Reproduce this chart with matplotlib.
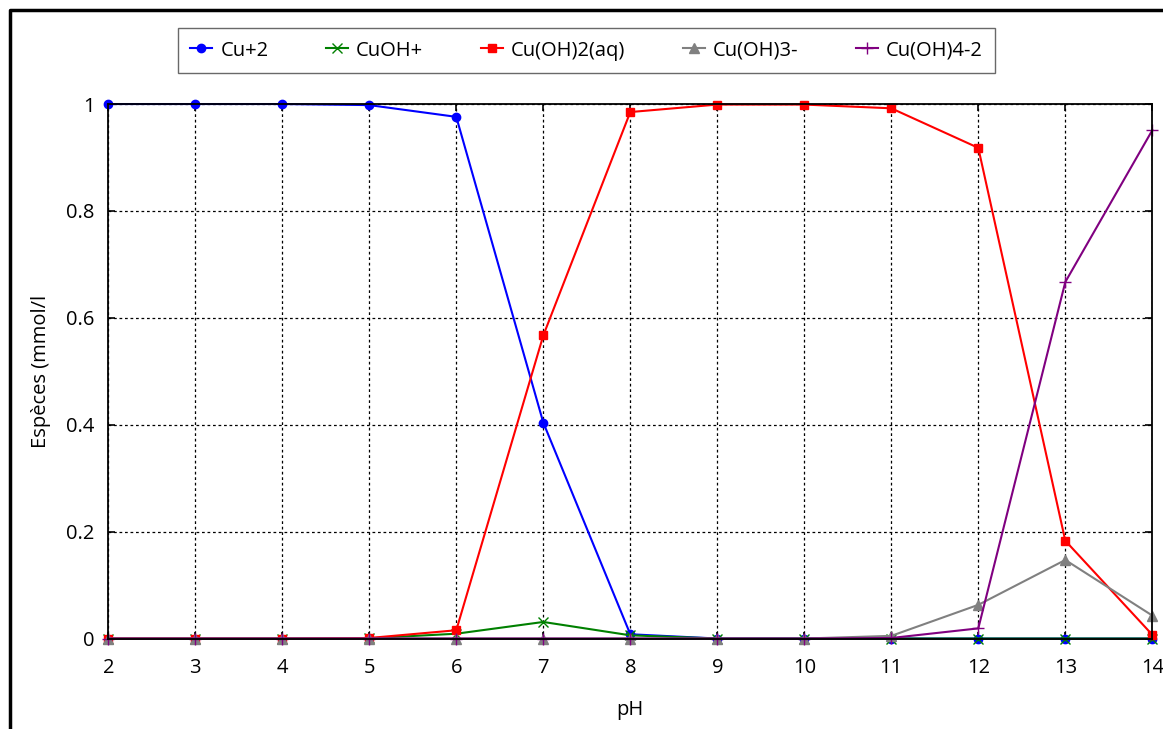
import matplotlib
matplotlib.use('Agg')
import matplotlib.pyplot as plt
from matplotlib.lines import Line2D

ph = [2, 3, 4, 5, 6, 7, 8, 9, 10, 11, 12, 13, 14]

cu2 = [1.0, 1.0, 1.0, 0.998, 0.976, 0.404, 0.008, 0.0, 0.0, 0.0, 0.0, 0.0, 0.0]
cuoh = [0.0, 0.0, 0.0, 0.0005, 0.009, 0.031, 0.006, 0.0, 0.0, 0.0, 0.0, 0.0, 0.0]
cuoh2 = [0.0, 0.0, 0.0, 0.001, 0.0155, 0.567, 0.985, 0.999, 0.999, 0.992, 0.918, 0.183, 0.007]
cuoh3 = [0.0, 0.0, 0.0, 0.0, 0.0, 0.0, 0.0, 0.0, 0.0, 0.005, 0.063, 0.147, 0.043]
cuoh4 = [0.0, 0.0, 0.0, 0.0, 0.0, 0.0, 0.0, 0.0, 0.0, 0.001, 0.019, 0.667, 0.951]

labels = ['Cu+2', 'CuOH+', 'Cu(OH)2(aq)', 'Cu(OH)3-', 'Cu(OH)4-2']
y_ticks = [0, 0.2, 0.4, 0.6, 0.8, 1]
y_tick_labels = ['0', '0.2', '0.4', '0.6', '0.8', '1']

plt.rcParams['font.family'] = ['Open Sans', 'DejaVu Sans']
FS = 14.5

fig = plt.figure(figsize=(11.63, 7.29), dpi=100)
ax = fig.add_axes([0.0931, 0.1241, 0.8977, 0.7332])

series = [
    (cu2, '#0000ff', 'o', 6),
    (cuoh, '#008000', 'x', 7),
    (cuoh2, '#ff0000', 's', 6),
    (cuoh3, '#808080', '^', 6.5),
    (cuoh4, '#800080', '+', 8),
]
for (vals, col, mk, ms), lab in zip(series, labels):
    ax.plot(ph, vals, color=col, marker=mk, markersize=ms, lw=1.5,
            label=lab, clip_on=False, markeredgewidth=1.0)

ax.set_xlim(2, 14)
ax.set_ylim(0, 1)
ax.set_xticks(ph)
ax.set_yticks(y_ticks)
ax.set_yticklabels(y_tick_labels)
ax.grid(True, color='black', linestyle=(0, (2.2, 2.2)), linewidth=0.9)
ax.set_axisbelow(True)
ax.tick_params(axis='both', direction='in', length=5, width=1.2,
               top=True, right=True, labelsize=FS, colors='black')
ax.tick_params(axis='x', pad=14)
ax.tick_params(axis='y', pad=10)
for sp in ax.spines.values():
    sp.set_linewidth(1.3)
    sp.set_color('black')

ax.set_xlabel('pH', fontsize=FS, labelpad=16)
ax.set_ylabel('Espèces (mmol/l', fontsize=FS, labelpad=11)

leg = fig.legend(loc='center', bbox_to_anchor=(0.5043, 0.9307), ncol=5,
                 fontsize=FS, frameon=True, fancybox=False,
                 handlelength=1.1, handletextpad=0.4, columnspacing=2.85,
                 borderpad=0.62)
leg.get_frame().set_edgecolor('#444444')
leg.get_frame().set_linewidth(1.0)

# outer frame of the original screenshot
fig.add_artist(Line2D([10 / 1163, 10 / 1163, 1.0], [0.0, 1 - 10 / 729, 1 - 10 / 729],
                      transform=fig.transFigure, color='black', lw=2.5))

fig.savefig('out.png', dpi=100)
